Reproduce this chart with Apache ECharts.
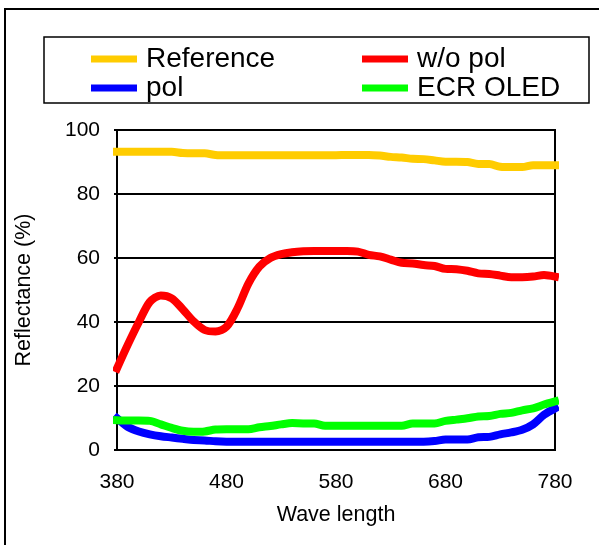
<!DOCTYPE html>
<html>
<head>
<meta charset="utf-8">
<script src="https://cdn.jsdelivr.net/npm/echarts@6/dist/echarts.min.js"></script>
<style>
  html, body { margin: 0; padding: 0; background: #fff; }
  #chart { width: 599px; height: 545px; }
</style>
</head>
<body>
<div id="chart"></div>
<script>
    var waveLength = [380, 390, 400, 410, 420, 430, 440, 450, 460, 470, 480, 490, 500, 510, 520, 530, 540, 550, 560, 570,
        580, 590, 600, 610, 620, 630, 640, 650, 660, 670, 680, 690, 700, 710, 720, 730, 740, 750, 760, 770, 780];
    var reference = [93.2, 93.2, 93.2, 93.2, 93.2, 93.2, 92.8, 92.7, 92.7, 92.2, 92.1, 92.1, 92.1, 92.1, 92.1, 92.1, 92.1, 92.1, 92.1, 92.1,
        92.1, 92.2, 92.2, 92.2, 92.0, 91.6, 91.4, 91.0, 90.9, 90.5, 90.1, 90.1, 90.0, 89.4, 89.4, 88.5, 88.4, 88.4, 89.0, 89.0, 89.0];
    var woPol = [25.5, 33, 40, 46.3, 48.3, 47.4, 44, 40.2, 37.5, 37.0, 38.5, 44.2, 52, 57.3, 60, 61.2, 61.8, 62.1, 62.2, 62.2,
        62.2, 62.2, 62.0, 61.0, 60.5, 59.5, 58.5, 58.3, 57.8, 57.5, 56.6, 56.5, 56.0, 55.2, 55.0, 54.5, 54.0, 54.0, 54.2, 54.7, 54.2];
    var pol = [9.9, 7.2, 5.8, 4.9, 4.3, 3.9, 3.5, 3.1, 3.0, 2.7, 2.6, 2.6, 2.6, 2.6, 2.6, 2.6, 2.6, 2.6, 2.6, 2.6,
        2.6, 2.6, 2.6, 2.6, 2.6, 2.6, 2.6, 2.6, 2.6, 2.8, 3.3, 3.3, 3.3, 4.0, 4.1, 4.9, 5.5, 6.3, 8.0, 11.0, 13.0];
    var ecrOled = [9.3, 9.2, 9.2, 9.1, 8.0, 6.9, 6.0, 5.7, 5.8, 6.4, 6.5, 6.5, 6.5, 7.1, 7.5, 8.0, 8.4, 8.3, 8.3, 7.6,
        7.6, 7.6, 7.6, 7.6, 7.6, 7.6, 7.6, 8.3, 8.3, 8.3, 9.1, 9.5, 9.9, 10.5, 10.6, 11.3, 11.6, 12.4, 13.0, 14.2, 15.2];
    var xTicks = [380, 480, 580, 680, 780];

    function pairs(ys) {
        return waveLength.map(function (x, i) { return [x, ys[i]]; });
    }

    var font = 'Liberation Sans, Arial, sans-serif';

    function lineSeries(name, ys, color) {
        return {
            name: name,
            type: 'line',
            data: pairs(ys),
            showSymbol: false,
            smooth: 0.3,
            lineStyle: { color: color, width: 8, cap: 'square' },
            itemStyle: { color: color },
            z: 3
        };
    }

    var legendCommon = {
        orient: 'vertical',
        itemWidth: 46,
        itemHeight: 7,
        itemGap: 1,
        icon: 'rect',
        selectedMode: false,
        textStyle: { fontFamily: font, fontSize: 28, color: '#000', lineHeight: 28, padding: [0, 0, 0, 4] }
    };

    var chart = echarts.init(document.getElementById('chart'));
    chart.setOption({
        animation: false,
        backgroundColor: '#fff',
        graphic: [
            { type: 'rect', shape: { x: 5, y: 9, width: 620, height: 560 }, style: { fill: 'none', stroke: '#000', lineWidth: 2 }, silent: true },
            { type: 'rect', shape: { x: 44, y: 37, width: 545, height: 66 }, style: { fill: 'none', stroke: '#000', lineWidth: 1.5 }, silent: true }
        ],
        legend: [
            Object.assign({ left: 86, top: 40, data: ['Reference', 'pol'] }, legendCommon),
            Object.assign({ left: 357, top: 40, data: ['w/o pol', 'ECR OLED'] }, legendCommon)
        ],
        grid: {
            left: 117, right: 44, top: 130, bottom: 95,
            show: true, borderColor: '#000', borderWidth: 2, backgroundColor: 'transparent'
        },
        xAxis: {
            type: 'value',
            min: 380, max: 780, interval: 100,
            name: 'Wave length',
            nameLocation: 'middle',
            nameGap: 54,
            nameTextStyle: { fontFamily: font, fontSize: 21.5, color: '#000' },
            axisLine: { lineStyle: { color: '#000', width: 2 } },
            axisTick: { show: false },
            splitLine: { show: false },
            axisLabel: { fontFamily: font, fontSize: 21, color: '#000', margin: 22,
                customValues: xTicks }
        },
        yAxis: {
            type: 'value',
            min: 0, max: 100, interval: 20,
            name: 'Reflectance (%)',
            nameLocation: 'middle',
            nameGap: 82,
            nameTextStyle: { fontFamily: font, fontSize: 21.5, color: '#000' },
            axisLine: { show: true, lineStyle: { color: '#000', width: 2 } },
            axisTick: { show: true, length: 3, lineStyle: { color: '#000', width: 2 } },
            splitLine: { show: true, lineStyle: { color: '#000', width: 2 } },
            axisLabel: { fontFamily: font, fontSize: 21, color: '#000', margin: 17 }
        },
        series: [
            lineSeries('Reference', reference, '#ffcc00'),
            lineSeries('w/o pol', woPol, '#ff0000'),
            lineSeries('pol', pol, '#0000ff'),
            lineSeries('ECR OLED', ecrOled, '#00ff00')
        ]
    });
</script>
</body>
</html>
